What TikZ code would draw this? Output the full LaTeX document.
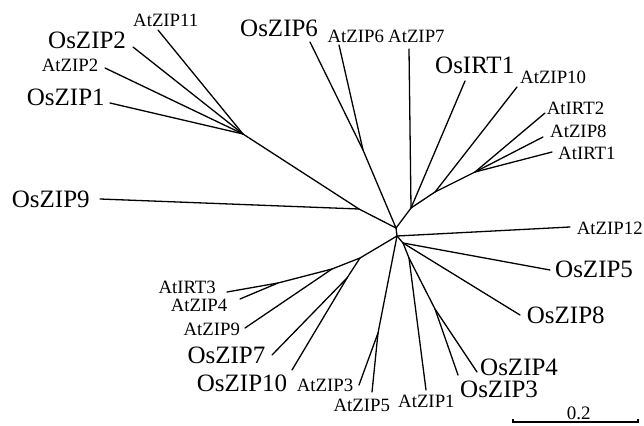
\documentclass[tikz,border=0pt]{standalone}
\usepackage{fontspec}
\setmainfont{Liberation Serif}
\begin{document}
\begin{tikzpicture}[x=1pt,y=-1pt,
  branch/.style={line width=1.3pt,line cap=round,line join=round},
  oslabel/.style={anchor=base west,inner sep=0pt,font=\fontsize{25}{28}\selectfont},
  atlabel/.style={anchor=base west,inner sep=0pt,font=\fontsize{18.8}{21}\selectfont},
  scalelabel/.style={anchor=base west,inner sep=0pt,font=\fontsize{19}{21}\selectfont}]
\useasboundingbox (0,0) rectangle (644,425);

% internal nodes of the unrooted tree
\coordinate (n1) at (396,228);
\coordinate (n2) at (397,236);
\coordinate (j9) at (359,209);
\coordinate (c2) at (243,134);
\coordinate (j6) at (363,150);
\coordinate (r1) at (411,208);
\coordinate (r2) at (435,192);
\coordinate (r3) at (475,172);
\coordinate (n3) at (403,243);
\coordinate (j1) at (409,258);
\coordinate (j34) at (435,309);
\coordinate (j35) at (378,333);
\coordinate (l1) at (360,258);
\coordinate (l2) at (332,269);
\coordinate (l3) at (347,278);
\coordinate (l4) at (278,283);

% leaf ends
\coordinate (tAtZIP11) at (158,30);
\coordinate (tOsZIP2) at (133,47);
\coordinate (tAtZIP2) at (105,68);
\coordinate (tOsZIP1) at (110,103);
\coordinate (tOsZIP9) at (100,199);
\coordinate (tOsZIP6) at (310,42);
\coordinate (tAtZIP6) at (339,45);
\coordinate (tAtZIP7) at (409,49);
\coordinate (tOsIRT1) at (465,81);
\coordinate (tAtZIP10) at (517,87);
\coordinate (tAtIRT2) at (545,113);
\coordinate (tAtZIP8) at (543,137);
\coordinate (tAtIRT1) at (552,152);
\coordinate (tAtZIP12) at (570,227);
\coordinate (tOsZIP5) at (550,270);
\coordinate (tOsZIP8) at (520,315);
\coordinate (tOsZIP4) at (477,372);
\coordinate (tOsZIP3) at (458,375);
\coordinate (tAtZIP1) at (426,390);
\coordinate (tAtZIP5) at (372,392);
\coordinate (tAtZIP3) at (359,385);
\coordinate (tOsZIP10) at (292,370);
\coordinate (tOsZIP7) at (272,355);
\coordinate (tAtZIP9) at (245,328);
\coordinate (tAtZIP4) at (240,299);
\coordinate (tAtIRT3) at (227,292);

% branches
\draw[branch] (n1) -- (n2);
\draw[branch] (n1) -- (j9) -- (c2);
\draw[branch] (j9) -- (tOsZIP9);
\draw[branch] (c2) -- (tAtZIP11);
\draw[branch] (c2) -- (tOsZIP2);
\draw[branch] (c2) -- (tAtZIP2);
\draw[branch] (c2) -- (tOsZIP1);
\draw[branch] (n1) -- (j6) -- (tOsZIP6);
\draw[branch] (j6) -- (tAtZIP6);
\draw[branch] (n1) -- (r1) -- (tAtZIP7);
\draw[branch] (r1) -- (tOsIRT1);
\draw[branch] (r1) -- (r2) -- (tAtZIP10);
\draw[branch] (r2) -- (r3) -- (tAtIRT2);
\draw[branch] (r3) -- (tAtZIP8);
\draw[branch] (r3) -- (tAtIRT1);
\draw[branch] (n2) -- (tAtZIP12);
\draw[branch] (n2) -- (n3) -- (tOsZIP5);
\draw[branch] (n3) -- (tOsZIP8);
\draw[branch] (n3) -- (j1) -- (tAtZIP1);
\draw[branch] (j1) -- (j34) -- (tOsZIP3);
\draw[branch] (j34) -- (tOsZIP4);
\draw[branch] (n2) -- (j35) -- (tAtZIP3);
\draw[branch] (j35) -- (tAtZIP5);
\draw[branch] (n2) -- (l1) -- (l2) -- (l4) -- (tAtIRT3);
\draw[branch] (l4) -- (tAtZIP4);
\draw[branch] (l2) -- (tAtZIP9);
\draw[branch] (l1) -- (l3) -- (tOsZIP7);
\draw[branch] (l3) -- (tOsZIP10);

% leaf labels
\node[atlabel] (lAtZIP11) at (133,26.7) {AtZIP11};
\node[oslabel] (lOsZIP2) at (48,48.3) {OsZIP2};
\node[atlabel] (lAtZIP2) at (41.7,71.7) {AtZIP2};
\node[oslabel] (lOsZIP1) at (26.7,106) {OsZIP1};
\node[oslabel] (lOsZIP9) at (11.7,207) {OsZIP9};
\node[oslabel] (lOsZIP6) at (240,36.7) {OsZIP6};
\node[atlabel] (lAtZIP6) at (327.3,42.3) {AtZIP6};
\node[atlabel] (lAtZIP7) at (388,42.3) {AtZIP7};
\node[oslabel] (lOsIRT1) at (435,74) {OsIRT1};
\node[atlabel] (lAtZIP10) at (520,84) {AtZIP10};
\node[atlabel] (lAtIRT2) at (546.7,114) {AtIRT2};
\node[atlabel] (lAtZIP8) at (550,137.3) {AtZIP8};
\node[atlabel] (lAtIRT1) at (558,159.3) {AtIRT1};
\node[atlabel] (lAtZIP12) at (576.7,234) {AtZIP12};
\node[oslabel] (lOsZIP5) at (555,277.3) {OsZIP5};
\node[oslabel] (lOsZIP8) at (526.7,323.3) {OsZIP8};
\node[oslabel] (lOsZIP4) at (480,375) {OsZIP4};
\node[oslabel] (lOsZIP3) at (460,397) {OsZIP3};
\node[atlabel] (lAtZIP1) at (398,407.3) {AtZIP1};
\node[atlabel] (lAtIRT3) at (158.3,293.3) {AtIRT3};
\node[atlabel] (lAtZIP4) at (170.7,311.7) {AtZIP4};
\node[atlabel] (lAtZIP9) at (183.3,335) {AtZIP9};
\node[oslabel] (lOsZIP7) at (187.3,363.3) {OsZIP7};
\node[oslabel] (lOsZIP10) at (196.7,391.7) {OsZIP10};
\node[atlabel] (lAtZIP3) at (296.7,391.7) {AtZIP3};
\node[atlabel] (lAtZIP5) at (333.3,411.7) {AtZIP5};

% scale bar
\coordinate (sbL) at (513,422);
\coordinate (sbR) at (638,422);
\draw[line width=1.1pt] ([yshift=3pt]sbL) -- (sbL) -- (sbR) -- ([yshift=3pt]sbR);
\node[scalelabel] (lScale) at (566.7,419) {0.2};
\end{tikzpicture}
\end{document}
